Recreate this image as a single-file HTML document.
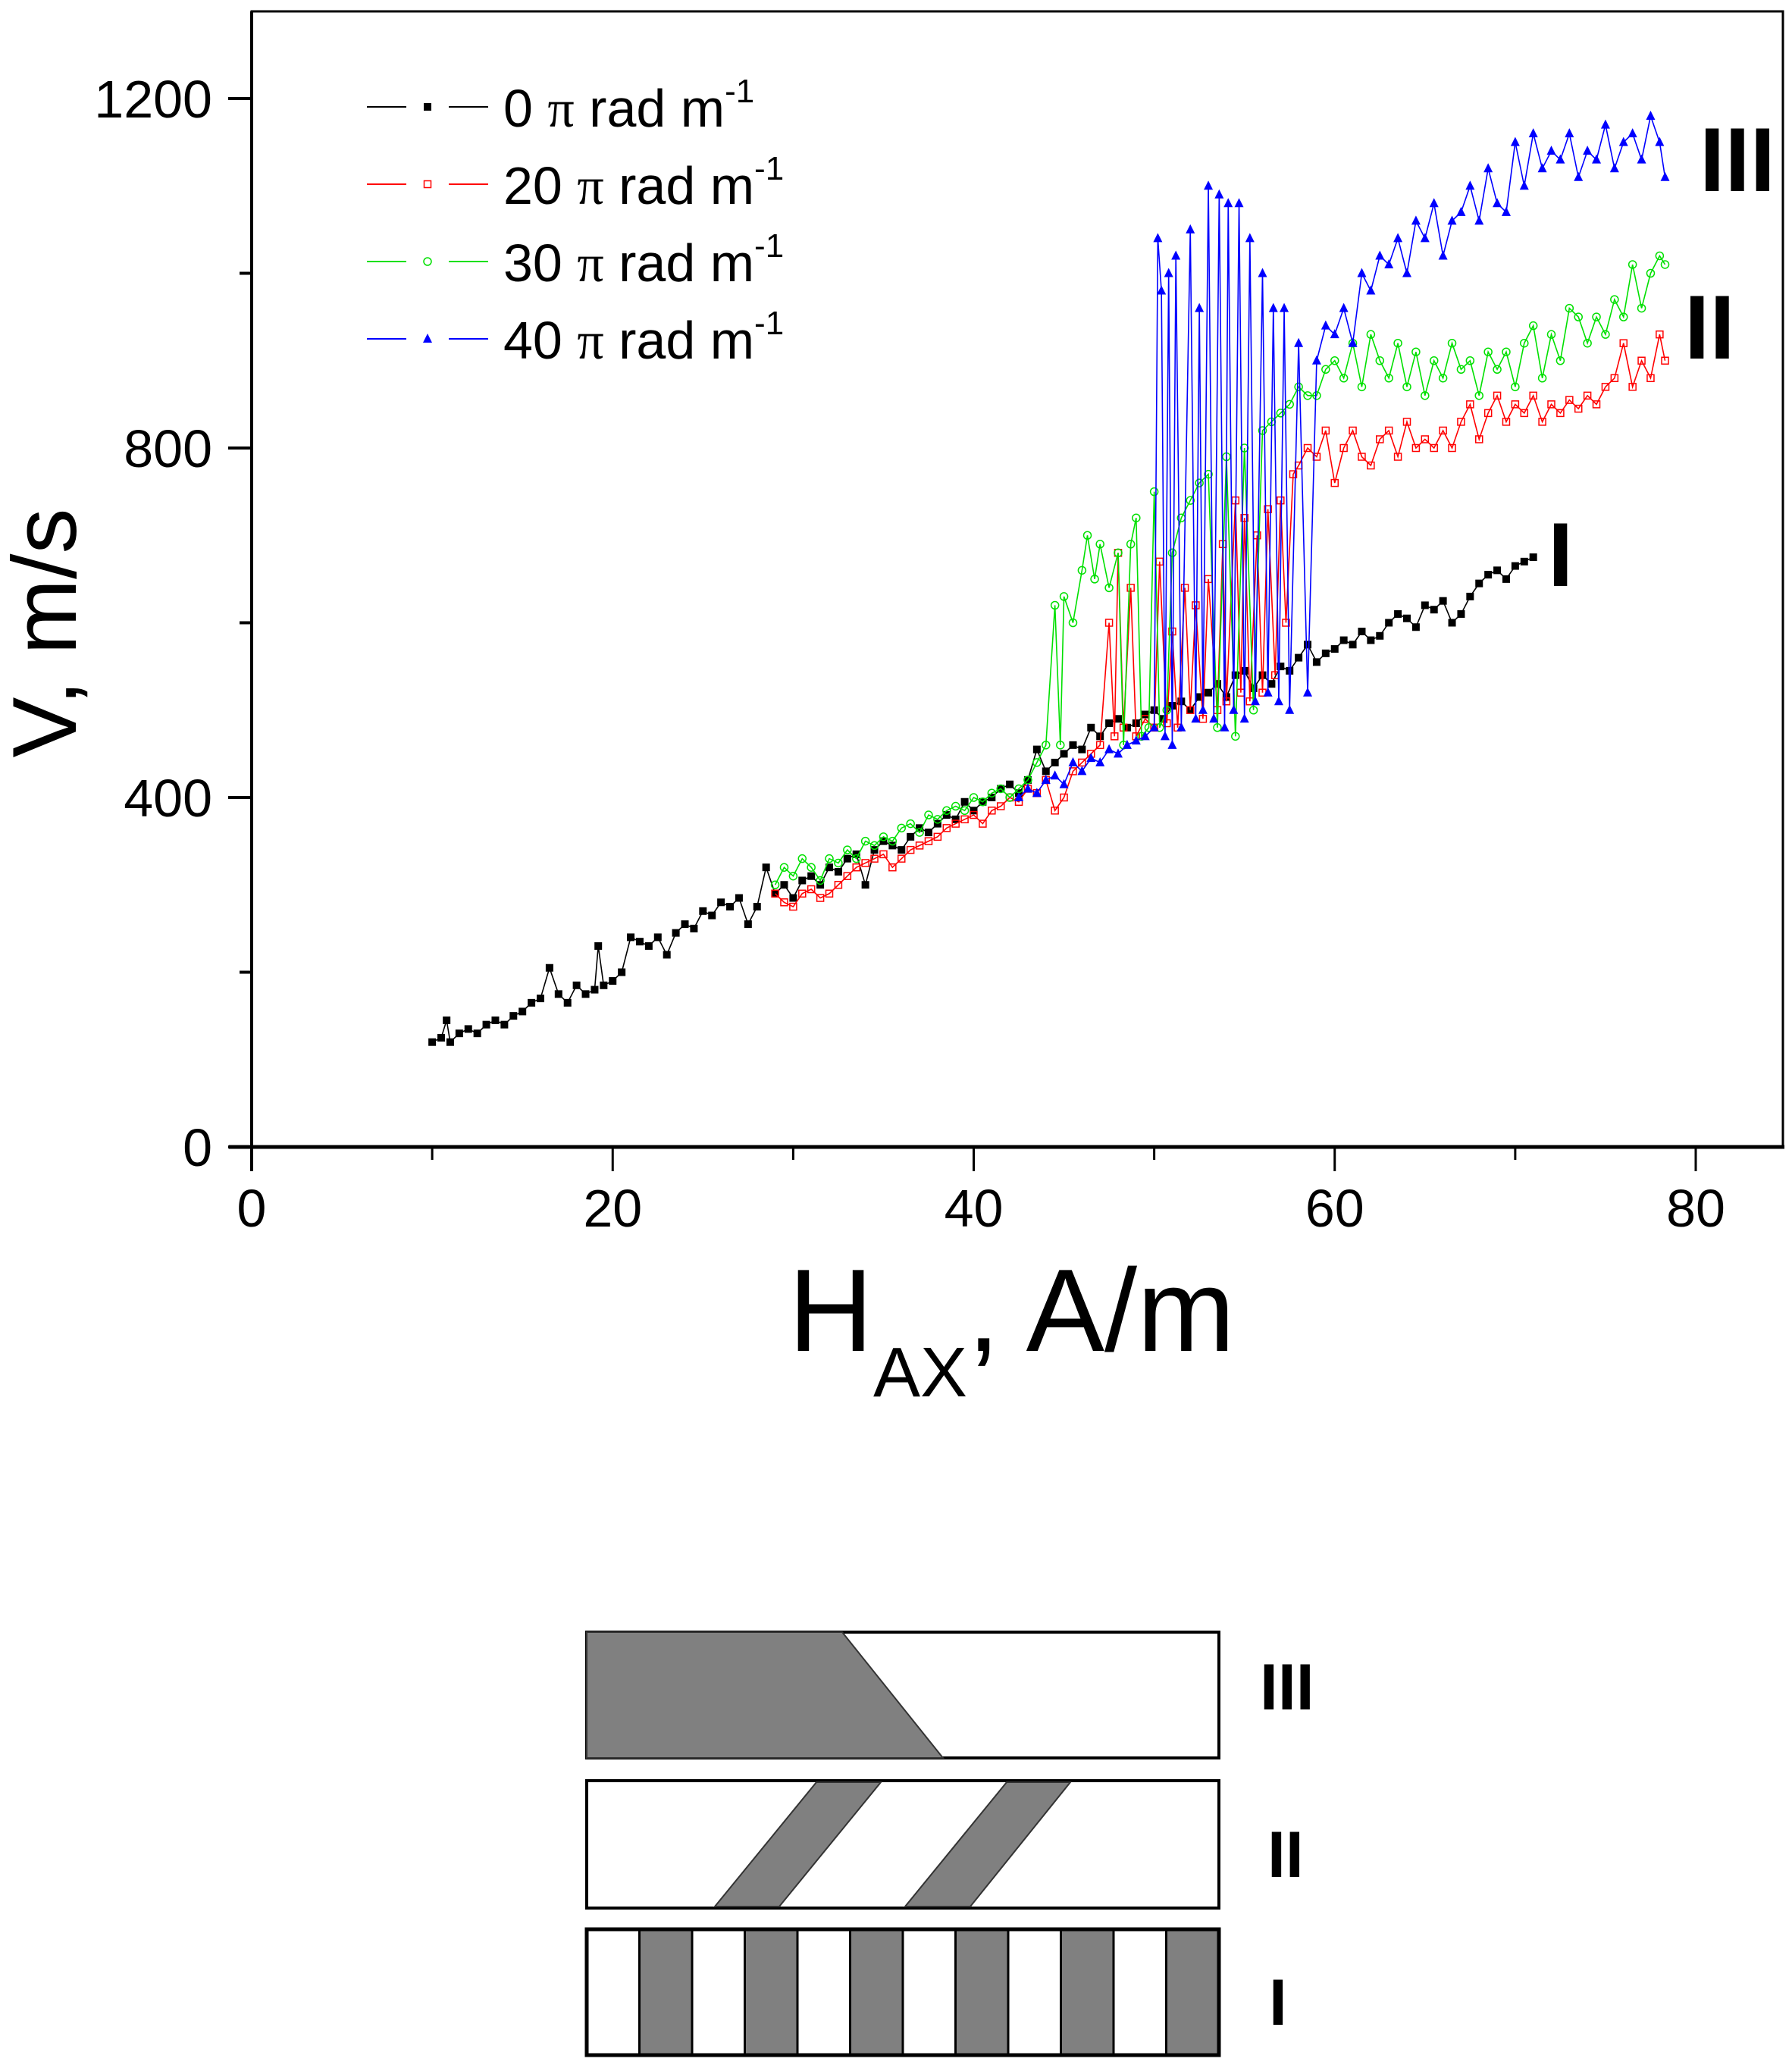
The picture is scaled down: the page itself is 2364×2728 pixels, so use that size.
<!DOCTYPE html>
<html><head><meta charset="utf-8"><style>
html,body{margin:0;padding:0;background:#fff;}
svg{display:block;font-family:"Liberation Sans",sans-serif;}
</style></head><body>
<svg id="chart" width="2364" height="2728" viewBox="0 0 2364 2728" xmlns="http://www.w3.org/2000/svg">
<rect x="0" y="0" width="2364" height="2728" fill="#fff"/>
<g id="plot"></g>
<text transform="translate(100,835) rotate(-90)" text-anchor="middle" font-size="120">V, m/s</text>
<text x="1040" y="1782" font-size="155">H<tspan font-size="93" dy="60">AX</tspan><tspan dy="-60">, A/m</tspan></text>
<text x="2242" y="252" font-size="120" font-weight="bold">III</text>
<text x="2222" y="473" font-size="120" font-weight="bold">II</text>
<text x="2042" y="773" font-size="120" font-weight="bold">I</text>
<g>
<rect x="774" y="2153" width="834" height="166" fill="#fff" stroke="#000" stroke-width="4"/>
<polygon points="774,2153 1111,2153 1244,2319 774,2319" fill="#808080" stroke="#333" stroke-width="2"/>
</g>
<text x="1662" y="2255" font-size="86" font-weight="bold">III</text>
<g>
<rect x="774" y="2349" width="834" height="168" fill="#fff" stroke="#000" stroke-width="4"/>
<polygon points="1077,2351 1162,2351 1028,2515 943,2515" fill="#808080" stroke="#333" stroke-width="2"/>
<polygon points="1328,2351 1412,2351 1280,2515 1194,2515" fill="#808080" stroke="#333" stroke-width="2"/>
</g>
<text x="1672" y="2476" font-size="86" font-weight="bold">II</text>
<g id="diag1"></g>
<text x="1674" y="2671" font-size="86" font-weight="bold">I</text>
</svg>
<script>
const black0 = [[10,120],[10.5,125],[10.8,145],[11,120],[11.5,130],[12,135],[12.5,130],[13,140],[13.5,145],[14,140],[14.5,150],[15,155],[15.5,165],[16,170],[16.5,205],[17,175],[17.5,165],[18,185],[18.5,175],[19,180],[19.2,230],[19.5,185],[20,190],[20.5,200],[21,240],[21.5,235],[22,230],[22.5,240],[23,220],[23.5,245],[24,255],[24.5,250],[25,270],[25.5,265],[26,280],[26.5,275],[27,285],[27.5,255],[28,275],[28.5,320],[29,290],[29.5,300],[30,285],[30.5,305],[31,310],[31.5,300],[32,320],[32.5,315],[33,330],[33.5,335],[34,300],[34.5,340],[35,350],[35.5,345],[36,340],[36.5,355],[37,365],[37.5,360],[38,370],[38.5,380],[39,375],[39.5,395],[40,385],[40.5,395],[41,400],[41.5,410],[42,415],[42.5,405],[43,420],[43.5,455],[44,430],[44.5,440],[45,450],[45.5,460],[46,455],[46.5,480],[47,470],[47.5,485],[48,490],[48.5,480],[49,485],[49.5,495],[50,500],[50.5,490],[51,505],[51.5,510],[52,500],[52.5,515],[53,520],[53.5,530],[54,515],[54.5,540],[55,545],[55.5,525],[56,540],[56.5,530],[57,550],[57.5,545],[58,560],[58.5,575],[59,555],[59.5,565],[60,570],[60.5,580],[61,575],[61.5,590],[62,580],[62.5,585],[63,600],[63.5,610],[64,605],[64.5,595],[65,620],[65.5,615],[66,625],[66.5,600],[67,610],[67.5,630],[68,645],[68.5,655],[69,660],[69.5,650],[70,665],[70.5,670],[71,675]];
const red20 = [[29,290],[29.5,280],[30,275],[30.5,290],[31,295],[31.5,285],[32,290],[32.5,300],[33,310],[33.5,320],[34,325],[34.5,330],[35,335],[35.5,320],[36,330],[36.5,340],[37,345],[37.5,350],[38,355],[38.5,365],[39,370],[39.5,375],[40,380],[40.5,370],[41,385],[41.5,390],[42,400],[42.5,395],[43,410],[43.5,405],[44,420],[44.5,385],[45,400],[45.5,430],[46,440],[46.5,450],[47,460],[47.5,600],[47.8,470],[48,680],[48.3,480],[48.7,640],[49,470],[49.5,490],[50,480],[50.3,670],[50.7,485],[51,590],[51.3,480],[51.7,640],[52,500],[52.3,620],[52.7,490],[53,650],[53.5,500],[53.8,690],[54,510],[54.5,740],[54.8,520],[55,720],[55.3,510],[55.7,700],[56,520],[56.3,730],[56.7,540],[57,740],[57.3,600],[57.7,770],[58,780],[58.5,800],[59,790],[59.5,820],[60,760],[60.5,800],[61,820],[61.5,790],[62,780],[62.5,810],[63,820],[63.5,790],[64,830],[64.5,800],[65,810],[65.5,800],[66,820],[66.5,800],[67,830],[67.5,850],[68,810],[68.5,840],[69,860],[69.5,830],[70,850],[70.5,840],[71,860],[71.5,830],[72,850],[72.5,840],[73,855],[73.5,845],[74,860],[74.5,850],[75,870],[75.5,880],[76,920],[76.5,870],[77,900],[77.5,880],[78,930],[78.3,900]];
const green30 = [[29,300],[29.5,320],[30,310],[30.5,330],[31,320],[31.5,305],[32,330],[32.5,325],[33,340],[33.5,330],[34,350],[34.5,345],[35,355],[35.5,350],[36,365],[36.5,370],[37,360],[37.5,380],[38,375],[38.5,385],[39,390],[39.5,385],[40,400],[40.5,395],[41,405],[41.5,410],[42,400],[42.5,410],[43,420],[43.5,440],[44,460],[44.5,620],[44.8,460],[45,630],[45.5,600],[46,660],[46.3,700],[46.7,650],[47,690],[47.5,640],[48,680],[48.3,460],[48.7,690],[49,720],[49.3,470],[49.7,480],[50,750],[50.3,480],[50.7,500],[51,680],[51.5,720],[52,740],[52.5,760],[53,770],[53.5,480],[54,790],[54.5,470],[55,800],[55.5,500],[56,820],[56.5,830],[57,840],[57.5,850],[58,870],[58.5,860],[59,860],[59.5,890],[60,900],[60.5,880],[61,920],[61.5,870],[62,930],[62.5,900],[63,880],[63.5,920],[64,870],[64.5,910],[65,860],[65.5,900],[66,880],[66.5,920],[67,890],[67.5,900],[68,860],[68.5,910],[69,890],[69.5,910],[70,870],[70.5,920],[71,940],[71.5,880],[72,930],[72.5,900],[73,960],[73.5,950],[74,920],[74.5,950],[75,930],[75.5,970],[76,950],[76.5,1010],[77,960],[77.5,1000],[78,1020],[78.3,1010]];
const blue40 = [[42.5,400],[43,410],[43.5,405],[44,420],[44.5,425],[45,415],[45.5,440],[46,430],[46.5,445],[47,440],[47.5,455],[48,450],[48.5,460],[49,465],[49.5,470],[50,480],[50.2,1040],[50.4,980],[50.6,470],[50.8,1000],[51,460],[51.2,1020],[51.5,480],[52,1050],[52.3,490],[52.5,960],[52.7,500],[53,1100],[53.3,490],[53.6,1090],[53.9,480],[54.1,1080],[54.4,500],[54.7,1080],[55,490],[55.3,1040],[55.6,510],[56,1000],[56.3,520],[56.6,960],[56.9,510],[57.2,960],[57.5,500],[58,920],[58.5,520],[59,900],[59.5,940],[60,930],[60.5,960],[61,920],[61.5,1000],[62,980],[62.5,1020],[63,1010],[63.5,1040],[64,1000],[64.5,1060],[65,1040],[65.5,1080],[66,1020],[66.5,1060],[67,1070],[67.5,1100],[68,1060],[68.5,1120],[69,1080],[69.5,1070],[70,1150],[70.5,1100],[71,1160],[71.5,1120],[72,1140],[72.5,1130],[73,1160],[73.5,1110],[74,1140],[74.5,1130],[75,1170],[75.5,1120],[76,1150],[76.5,1160],[77,1130],[77.5,1180],[78,1150],[78.3,1110]];
const xTicks = [0,20,40,60,80];
const xMinor = [10,30,50,70];
const yTicks = [0,400,800,1200];
const yMinor = [200,600,1000];
const legendLabels = ["0","20","30","40"];

const NS="http://www.w3.org/2000/svg";
const X0=332, X1=2237, Y0=1513, Y1=130;
const sx=v=>X0+(v-0)*(X1-X0)/80;
const sy=v=>Y0-(v-0)*(Y0-Y1)/1200;
const plot=document.getElementById('plot');
function mk(tag,attrs,parent){const e=document.createElementNS(NS,tag);for(const k in attrs)e.setAttribute(k,attrs[k]);(parent||plot).appendChild(e);return e;}

const frame=mk('rect',{x:X0,y:15,width:2352-X0,height:Y0-15,fill:'none',stroke:'#000','stroke-width':3});


const xl=mk('line',{x1:X0-30,y1:Y0,x2:2354,y2:Y0,stroke:'#000','stroke-width':5});


const yl=mk('line',{x1:X0,y1:15,x2:X0,y2:Y0+32,stroke:'#000','stroke-width':4});



xTicks.forEach(v=>{
  const t=mk('line',{x1:sx(v),y1:Y0,x2:sx(v),y2:Y0+32,stroke:'#000','stroke-width':3});
  
  
  const l=mk('text',{x:sx(v),y:1618,'text-anchor':'middle','font-size':70});
  l.textContent=v;
  
  
});
xMinor.forEach(v=>{
  const t=mk('line',{x1:sx(v),y1:Y0,x2:sx(v),y2:Y0+17,stroke:'#000','stroke-width':3});
  
  
});
yTicks.forEach(v=>{
  const t=mk('line',{x1:X0-31,y1:sy(v),x2:X0,y2:sy(v),stroke:'#000','stroke-width':4});
  
  
  const l=mk('text',{x:280,y:sy(v)+25,'text-anchor':'end','font-size':70});
  l.textContent=v;
  
  
});
yMinor.forEach(v=>{
  const t=mk('line',{x1:X0-16,y1:sy(v),x2:X0,y2:sy(v),stroke:'#000','stroke-width':4});
  
  
});

function marker(kind,color,x,y,g){
  if(kind==='fsq') return mk('rect',{x:x-5,y:y-5,width:10,height:10,fill:color},g);
  if(kind==='osq') return mk('rect',{x:x-4.5,y:y-4.5,width:9,height:9,fill:'none',stroke:color,'stroke-width':1.5},g);
  if(kind==='oc') return mk('circle',{cx:x,cy:y,r:5,fill:'none',stroke:color,'stroke-width':1.5},g);
  return mk('polygon',{points:`${x},${y-7} ${x-6},${y+5} ${x+6},${y+5}`,fill:color},g);
}
const series=[[black0,'#000','fsq','series-0pi'],[red20,'#ff0000','osq','series-20pi'],[green30,'#00e000','oc','series-30pi'],[blue40,'#0000ff','tri','series-40pi']];
series.forEach(([d,c,k,n])=>{
  const g=mk('g',{});
  
  
  const p=mk('polyline',{points:d.map(q=>sx(q[0])+','+sy(q[1])).join(' '),fill:'none',stroke:c,'stroke-width':1.6},g);
  
  
  d.forEach(q=>{
    const m=marker(k,c,sx(q[0]),sy(q[1]),g);
    
    
  });
});

const lrows=[141,243,345,447];
series.forEach(([d,c,k,n],i)=>{
  const g=mk('g',{});
  
  
  const y=lrows[i];
  mk('line',{x1:484,y1:y,x2:536,y2:y,stroke:c,'stroke-width':2},g);
  mk('line',{x1:592,y1:y,x2:644,y2:y,stroke:c,'stroke-width':2},g);
  marker(k,c,564,y,g);
  const t=mk('text',{x:664,y:y+26,'font-size':70},g);
  t.innerHTML=legendLabels[i]+' <tspan font-family="Liberation Serif">π</tspan> rad m<tspan font-size="44" dy="-32">-1</tspan>';
});

const d1=document.getElementById('diag1');
const stripeCount=12, sw=(1608-774)/stripeCount;
for(let i=0;i<stripeCount;i++){
  const r=mk('rect',{x:774+i*sw,y:2545,width:sw,height:166,fill:(i%2)?'#808080':'#fff',stroke:'#000','stroke-width':3},d1);
  
  
}
mk('rect',{x:774,y:2545,width:834,height:166,fill:'none',stroke:'#000','stroke-width':5},d1);
</script>
</body></html>
